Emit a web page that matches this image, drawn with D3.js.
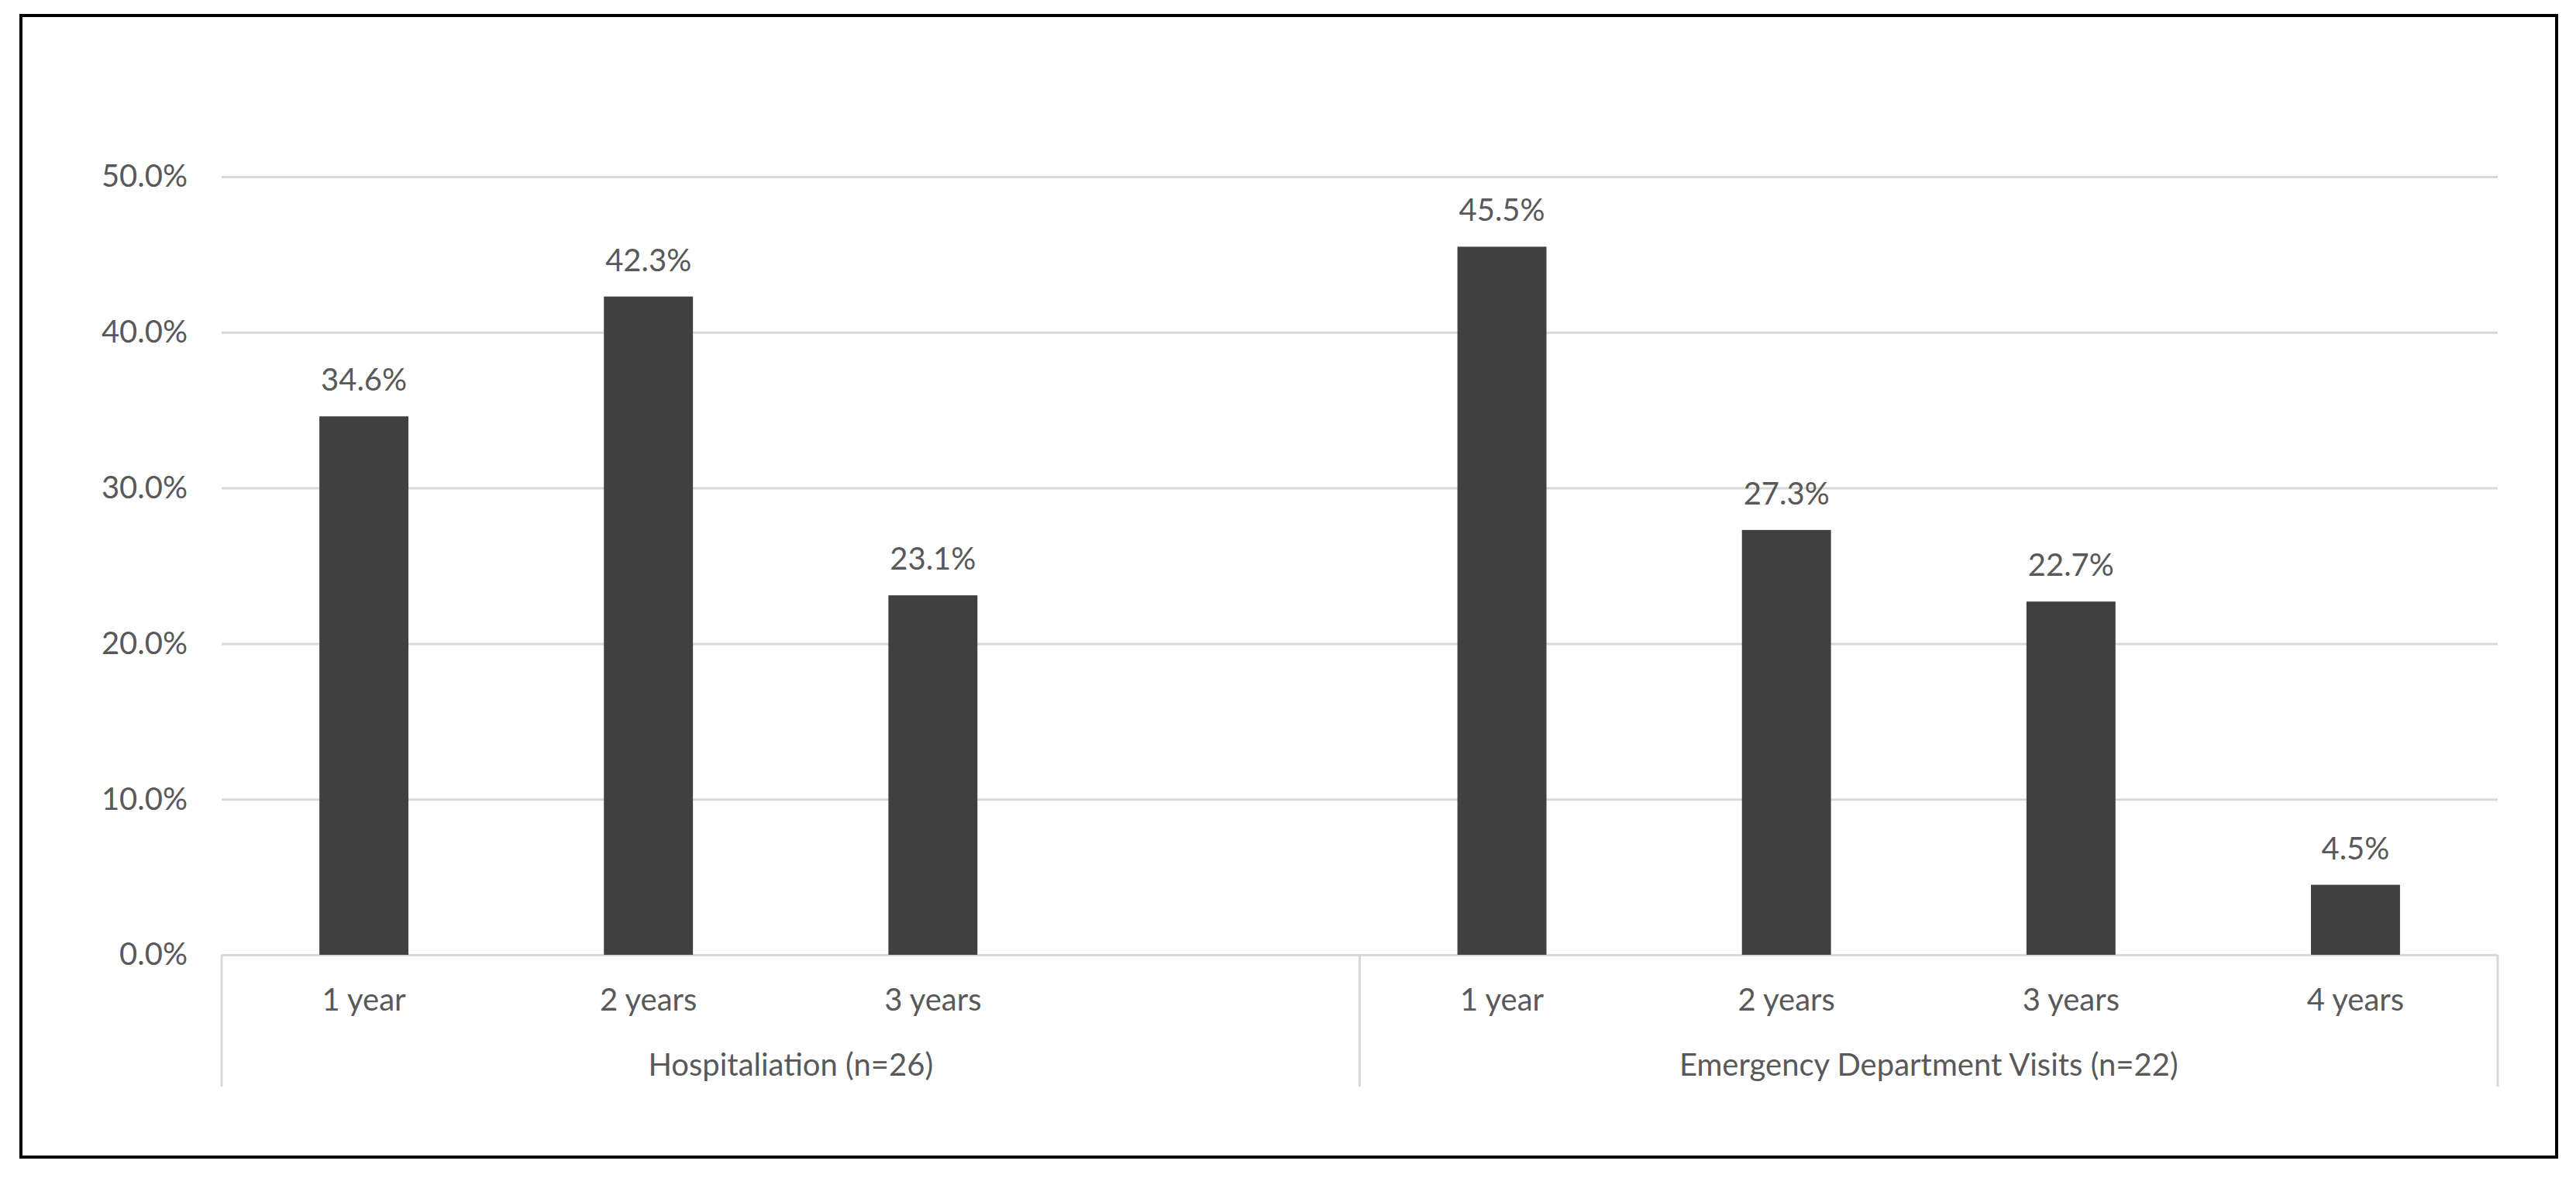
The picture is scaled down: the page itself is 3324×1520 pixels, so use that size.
<!DOCTYPE html>
<html>
<head>
<meta charset="utf-8">
<script src="https://cdn.jsdelivr.net/npm/d3@7"></script>
<style>
  body { margin: 0; background: #fff; }
  text { font-family: Lato, "Open Sans", sans-serif; fill: #595959; }
</style>
</head>
<body>
<div id="chart"></div>
<script>
//Data
const groupNames = ['Hospitaliation (n=26)', 'Emergency Department Visits (n=22)'];
const hospCategories = ['1 year', '2 years', '3 years', ''];
const hospValues = [34.6, 42.3, 23.1, null];
const edCategories = ['1 year', '2 years', '3 years', '4 years'];
const edValues = [45.5, 27.3, 22.7, 4.5];
const yTickValues = [0, 10, 20, 30, 40, 50];

//General config
const W = 3324, H = 1520;
const margin = {top: 228, right: 101, bottom: 288, left: 286};
const width = W - margin.left - margin.right;
const height = H - margin.top - margin.bottom;
const barColor = '#404040';
const gridColor = '#d9d9d9';

//Slots (one per category, grouped)
const slots = [];
hospCategories.forEach((c, i) => slots.push({key: 'h' + i, group: 0, label: c, value: hospValues[i]}));
edCategories.forEach((c, i) => slots.push({key: 'e' + i, group: 1, label: c, value: edValues[i]}));

//Scales
const x = d3.scaleBand().domain(slots.map(d => d.key)).range([0, width]).padding(0);
const y = d3.scaleLinear().domain([0, 50]).range([height, 0]);
const barW = x.bandwidth() * 0.313;

const svg = d3.select('#chart').append('svg')
    .attr('width', W)
    .attr('height', H);

//Frame
svg.append('rect')
    .attr('x', 27).attr('y', 20)
    .attr('width', 3272).attr('height', 1473)
    .attr('fill', 'none')
    .attr('stroke', '#000')
    .attr('stroke-width', 4);

const g = svg.append('g')
    .attr('transform', `translate(${margin.left}, ${margin.top})`);

//Y axis + grid
const yAxis = g.append('g')
    .call(d3.axisLeft(y).tickValues(yTickValues).tickSize(-width).tickPadding(44)
        .tickFormat(d => d.toFixed(1) + '%'));
yAxis.select('.domain').remove();
yAxis.selectAll('line').attr('stroke', gridColor).attr('stroke-width', 3);
yAxis.selectAll('text').attr('font-size', 40).style('font-family', null).attr('fill', '#595959');

//Bars
g.selectAll('.bar')
    .data(slots.filter(d => d.value != null))
    .enter()
    .append('rect')
    .attr('class', 'bar')
    .attr('x', d => x(d.key) + (x.bandwidth() - barW) / 2)
    .attr('y', d => y(d.value))
    .attr('width', barW)
    .attr('height', d => y(0) - y(d.value))
    .attr('fill', barColor);

//Value labels
g.selectAll('.val')
    .data(slots.filter(d => d.value != null))
    .enter()
    .append('text')
    .attr('class', 'val')
    .attr('x', d => x(d.key) + x.bandwidth() / 2)
    .attr('y', d => y(d.value) - 33)
    .attr('text-anchor', 'middle')
    .attr('font-size', 40)
    .text(d => d.value.toFixed(1) + '%');

//Category axis
const xAxis = g.append('g')
    .attr('transform', `translate(0, ${height})`)
    .call(d3.axisBottom(x).tickSize(0).tickPadding(44)
        .tickFormat(k => slots.find(s => s.key === k).label));
xAxis.select('.domain').remove();
xAxis.selectAll('text').attr('font-size', 40).style('font-family', null).attr('fill', '#595959');

//Group dividers
const dividerX = [0, x('e0'), width];
g.selectAll('.divider')
    .data(dividerX)
    .enter()
    .append('line')
    .attr('x1', d => d).attr('x2', d => d)
    .attr('y1', height).attr('y2', height + 170)
    .attr('stroke', gridColor)
    .attr('stroke-width', 3);

//Group labels
g.selectAll('.group-label')
    .data(groupNames)
    .enter()
    .append('text')
    .attr('class', 'group-label')
    .attr('x', (d, i) => (dividerX[i] + dividerX[i + 1]) / 2)
    .attr('y', height + 156)
    .attr('text-anchor', 'middle')
    .attr('font-size', 40)
    .text(d => d);
</script>
</body>
</html>
